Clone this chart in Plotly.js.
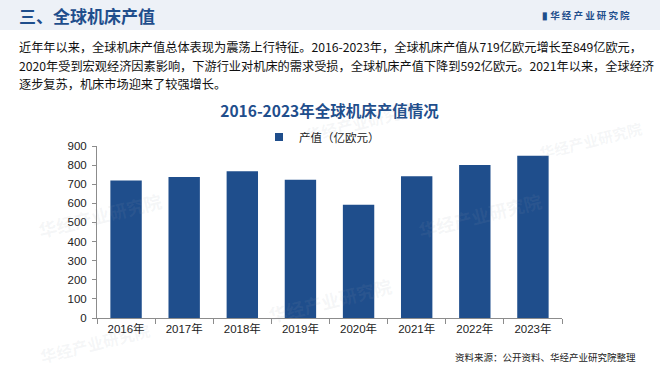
<!DOCTYPE html>
<html><head><meta charset="utf-8">
<script src="https://cdn.plot.ly/plotly-3.0.1.min.js"></script>
<style>html,body{margin:0;padding:0;background:#fff;}#chart{width:660px;height:367px;}</style>
</head><body><div id="chart"></div>
<script>
const years = ["2016年","2017年","2018年","2019年","2020年","2021年","2022年","2023年"];
const values = [719, 738, 768, 724, 592, 742, 801, 849];
const seriesName = "产值（亿欧元）";
const yTicks = [0,100,200,300,400,500,600,700,800,900];
const paraLines = [
  "近年年以来，全球机床产值总体表现为震荡上行特征。2016-2023年，全球机床产值从719亿欧元增长至849亿欧元，",
  "2020年受到宏观经济因素影响，下游行业对机床的需求受损，全球机床产值下降到592亿欧元。2021年以来，全球经济",
  "逐步复苏，机床市场迎来了较强增长。"
];
const watermark = "华经产业研究院";

const blue = "#1f4e8c";
const cjk = "'Noto Sans CJK SC', 'Liberation Sans', sans-serif";
const L = 97, T = 146, PW = 465, PH = 172;
const px = x => (x - L) / PW;
const py = y => 1 + (T - y) / PH;

const bars = {
  type: "bar", x: years, y: values, name: seriesName,
  marker: {color: blue}, showlegend: false
};
const legendItem = {
  type: "scatter", mode: "markers", x: [null], y: [null], name: seriesName,
  marker: {color: blue, symbol: "square", size: 8}, showlegend: true
};

const annotations = [];
// faint watermarks
[[100, 215, 18], [360, 122, 16], [590, 140, 15], [330, 300, 18], [95, 343, 16], [480, 215, 18]].forEach(p => annotations.push({
  text: "<b>" + watermark + "</b>", xref: "paper", yref: "paper", x: px(p[0]), y: py(p[1]),
  xanchor: "center", yanchor: "middle", showarrow: false, textangle: -14,
  font: {family: cjk, size: p[2], color: "rgba(150,160,175,0.10)"}
}));
annotations.push(
  {text: "<b>三、全球机床产值</b>", xref: "paper", yref: "paper", x: px(17), y: py(15),
   xanchor: "left", yanchor: "middle", showarrow: false, font: {family: cjk, size: 17, color: blue}},
  {text: "<b>▮ 华 经 产 业 研 究 院</b>", xref: "paper", yref: "paper", x: px(632), y: py(15),
   xanchor: "right", yanchor: "middle", showarrow: false, font: {family: cjk, size: 9.5, color: blue}},
  {text: "资料来源：公开资料、华经产业研究院整理", xref: "paper", yref: "paper", x: px(638), y: py(357),
   xanchor: "right", yanchor: "middle", showarrow: false, font: {family: cjk, size: 9.5, color: "#222"}}
);
const lineY = [47, 66, 84];
paraLines.forEach((t, i) => annotations.push({
  text: t, xref: "paper", yref: "paper", x: px(17), y: py(lineY[i]),
  xanchor: "left", yanchor: "middle", align: "left", showarrow: false,
  font: {family: cjk, size: 12.2, color: "#111"}
}));

const layout = {
  width: 660, height: 367,
  margin: {l: L, r: 660 - L - PW, t: T, b: 367 - T - PH},
  paper_bgcolor: "#ffffff", plot_bgcolor: "rgba(0,0,0,0)",
  bargap: 0.46,
  font: {family: "'Liberation Sans', " + cjk, size: 11, color: "#222"},
  title: {text: "2016-2023年全球机床产值情况", x: 0.5, xref: "paper", y: 1 - 112/367, yref: "container", yanchor: "middle",
          font: {family: cjk, size: 15.5, color: blue, weight: "bold"}},
  xaxis: {
    type: "category", showgrid: false, showline: true, linecolor: "#8c8c8c", linewidth: 1,
    ticks: "outside", tickson: "boundaries", ticklen: 5, tickcolor: "#8c8c8c",
    tickfont: {family: "'Liberation Sans', " + cjk, size: 11.5, color: "#222"}
  },
  yaxis: {
    range: [0, 900], tickvals: yTicks, showgrid: false, zeroline: false, showline: true,
    linecolor: "#8c8c8c", linewidth: 1, ticks: "outside", ticklen: 4, tickcolor: "#8c8c8c",
    ticklabelstandoff: 3,
    tickfont: {family: "'Liberation Sans', sans-serif", size: 11.5, color: "#222"}
  },
  legend: {orientation: "h", x: px(322), xanchor: "center", xref: "paper", y: py(137), yanchor: "middle",
           font: {family: cjk, size: 11.5, color: "#222"}, itemwidth: 20, bgcolor: "rgba(0,0,0,0)"},
  shapes: [
    {type: "rect", xref: "paper", yref: "paper", x0: px(0), x1: px(660), y0: py(30), y1: py(0),
     fillcolor: "#edf1f7", line: {width: 0}, layer: "below"}
  ],
  annotations: annotations
};

Plotly.newPlot("chart", [bars, legendItem], layout, {displayModeBar: false, staticPlot: true});
</script></body></html>
